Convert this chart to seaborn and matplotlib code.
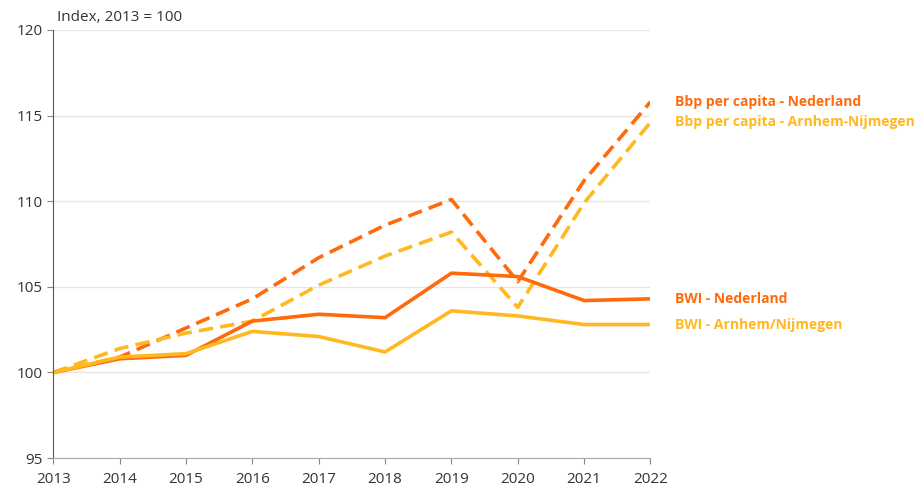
import pandas as pd
import seaborn as sns
import matplotlib.pyplot as plt

years = [2013, 2014, 2015, 2016, 2017, 2018, 2019, 2020, 2021, 2022]
bbp_nl = [100, 100.9, 102.6, 104.3, 106.7, 108.6, 110.1, 105.3, 111.2, 115.8]
bbp_an = [100, 101.4, 102.3, 103.0, 105.1, 106.8, 108.2, 103.8, 109.9, 114.6]
bwi_nl = [100, 100.8, 101.0, 103.0, 103.4, 103.2, 105.8, 105.6, 104.2, 104.3]
bwi_an = [100, 100.9, 101.1, 102.4, 102.1, 101.2, 103.6, 103.3, 102.8, 102.8]

labels = ["Bbp per capita - Nederland", "Bbp per capita - Arnhem-Nijmegen",
          "BWI - Nederland", "BWI - Arnhem/Nijmegen"]
series = [bbp_nl, bbp_an, bwi_nl, bwi_an]
colors = ["#FF6A0D", "#FFB81F", "#FF6A0D", "#FFB81F"]
dashed = [True, True, False, False]

df = pd.concat([pd.DataFrame({"jaar": years, "index": s, "reeks": l})
                for s, l in zip(series, labels)])

sns.set_style("white")
plt.rcParams["font.family"] = ["Open Sans", "DejaVu Sans"]

fig = plt.figure(figsize=(9.2, 4.9), dpi=100)
ax = fig.add_axes([0.058, 0.065, 0.649, 0.874])

sns.lineplot(data=df, x="jaar", y="index", hue="reeks", style="reeks",
             palette=dict(zip(labels, colors)),
             dashes={l: ((4, 2) if d else "") for l, d in zip(labels, dashed)},
             linewidth=2.6, legend=False, ax=ax)

for s, l, c in zip(series, labels, colors):
    ax.annotate(l, xy=(years[-1], s[-1]), xytext=(18, 0), textcoords="offset points",
                color=c, fontsize=10, fontweight="bold", va="center",
                annotation_clip=False)

ax.set_xlim(2013, 2022)
ax.set_ylim(95, 120)
ax.set_xticks(years)
ax.set_yticks([95, 100, 105, 110, 115, 120])
ax.yaxis.grid(True, color="#e6e6e6", linewidth=1)
ax.set_axisbelow(True)
ax.tick_params(axis="both", length=4, width=0.8, color="#888888",
               labelsize=11, labelcolor="#333333", direction="out",
               left=True, bottom=True)
ax.tick_params(axis="x", pad=6)
for side in ["top", "right"]:
    ax.spines[side].set_visible(False)
ax.spines["left"].set_color("#555555")
ax.spines["bottom"].set_color("#aaaaaa")
ax.set_xlabel("")
ax.set_ylabel("")
fig.text(0.062, 0.964, "Index, 2013 = 100", fontsize=11, color="#333333", va="center")

plt.savefig("out.png", dpi=100)
